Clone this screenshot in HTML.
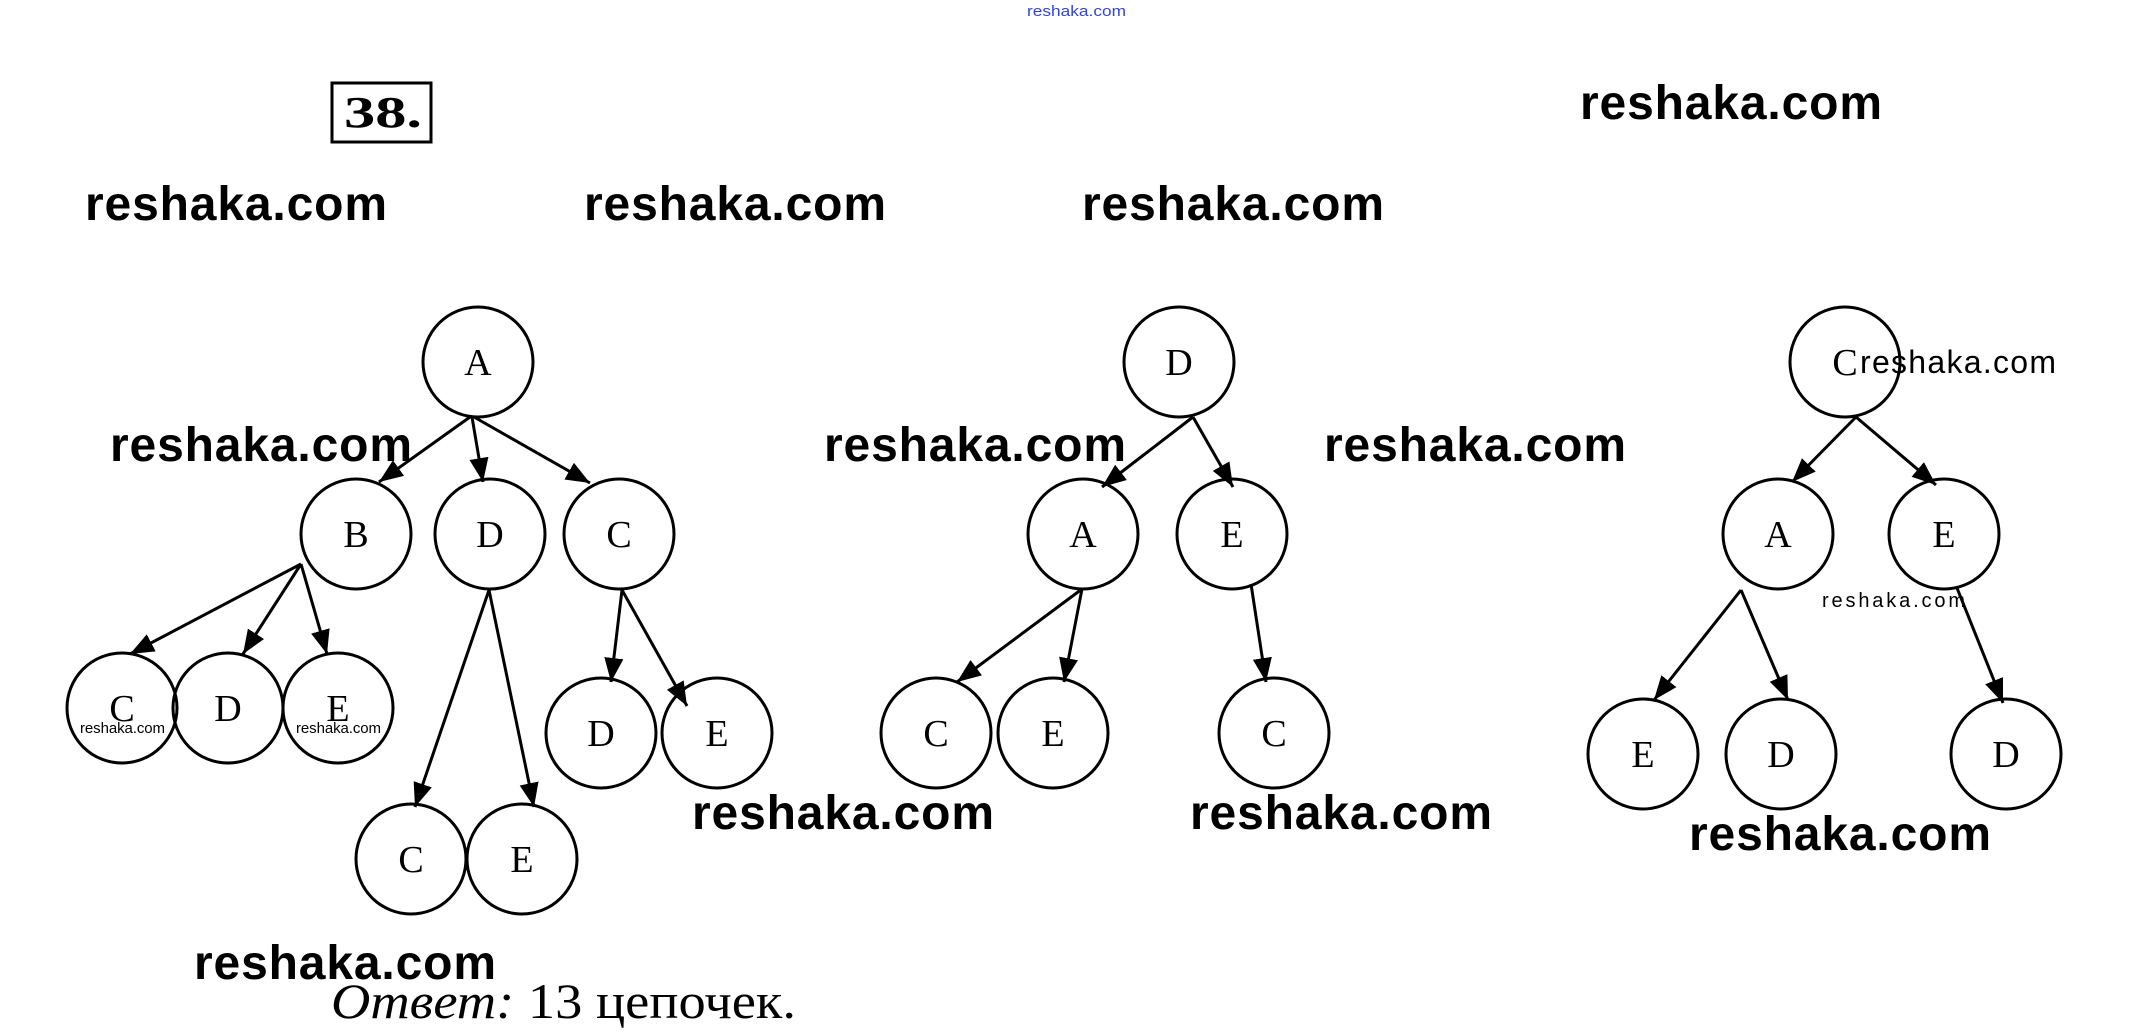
<!DOCTYPE html>
<html><head><meta charset="utf-8"><style>body{margin:0;background:#fff}svg{display:block}</style></head><body>
<svg width="2142" height="1034" viewBox="0 0 2142 1034" xmlns="http://www.w3.org/2000/svg">
<defs>
<marker id="a" viewBox="0 0 10 10" refX="10" refY="5" markerWidth="24" markerHeight="24" markerUnits="userSpaceOnUse" orient="auto"><path d="M0,1L10,5L0,9z" fill="#000"/></marker></defs>
<text x="1027" y="16" font-family="Liberation Sans, sans-serif" font-size="15" fill="#3344dd" textLength="99" lengthAdjust="spacingAndGlyphs">reshaka.com</text>
<rect x="332" y="83" width="99" height="59" fill="none" stroke="#000" stroke-width="3"/>
<text x="344" y="127" font-family="Liberation Serif, serif" font-weight="bold" font-size="44" textLength="78" lengthAdjust="spacingAndGlyphs">38.</text>
<g stroke="#000" stroke-width="3" fill="none">
<circle cx="478" cy="362" r="55"/><circle cx="356" cy="534" r="55"/><circle cx="490" cy="534" r="55"/><circle cx="619" cy="534" r="55"/>
<circle cx="122" cy="708" r="55"/><circle cx="228" cy="708" r="55"/><circle cx="338" cy="708" r="55"/>
<circle cx="601" cy="733" r="55"/><circle cx="717" cy="733" r="55"/><circle cx="411" cy="859" r="55"/><circle cx="522" cy="859" r="55"/>
<circle cx="1179" cy="362" r="55"/><circle cx="1083" cy="534" r="55"/><circle cx="1232" cy="534" r="55"/>
<circle cx="936" cy="733" r="55"/><circle cx="1053" cy="733" r="55"/><circle cx="1274" cy="733" r="55"/>
<circle cx="1845" cy="362" r="55"/><circle cx="1778" cy="534" r="55"/><circle cx="1944" cy="534" r="55"/>
<circle cx="1643" cy="754" r="55"/><circle cx="1781" cy="754" r="55"/><circle cx="2006" cy="754" r="55"/>
</g>
<g stroke="#000" stroke-width="3" marker-end="url(#a)">
<line x1="470" y1="417" x2="379" y2="482"/><line x1="472" y1="417" x2="483" y2="482"/><line x1="474" y1="417" x2="590" y2="483"/>
<line x1="301" y1="564" x2="130" y2="654"/><line x1="301" y1="564" x2="243" y2="654"/><line x1="301" y1="564" x2="327" y2="654"/>
<line x1="489" y1="590" x2="415" y2="807"/><line x1="489" y1="590" x2="534" y2="807"/>
<line x1="622" y1="590" x2="611" y2="682"/><line x1="622" y1="590" x2="687" y2="706"/>
<line x1="1193" y1="417" x2="1102" y2="487"/><line x1="1193" y1="417" x2="1233" y2="487"/>
<line x1="1082" y1="589" x2="957" y2="682"/><line x1="1082" y1="589" x2="1064" y2="682"/>
<line x1="1251" y1="584" x2="1266" y2="682"/>
<line x1="1856" y1="417" x2="1792" y2="482"/><line x1="1856" y1="417" x2="1936" y2="485"/>
<line x1="1741" y1="590" x2="1654" y2="700"/><line x1="1741" y1="590" x2="1788" y2="700"/>
<line x1="1957" y1="588" x2="2003" y2="703"/>
</g>
<g font-family="Liberation Serif, serif" font-size="38" text-anchor="middle">
<text x="478" y="375">A</text><text x="356" y="547">B</text><text x="490" y="547">D</text><text x="619" y="547">C</text>
<text x="122" y="721">C</text><text x="228" y="721">D</text><text x="338" y="721">E</text>
<text x="601" y="746">D</text><text x="717" y="746">E</text><text x="411" y="872">C</text><text x="522" y="872">E</text>
<text x="1179" y="375">D</text><text x="1083" y="547">A</text><text x="1232" y="547">E</text>
<text x="936" y="746">C</text><text x="1053" y="746">E</text><text x="1274" y="746">C</text>
<text x="1845" y="375">C</text><text x="1778" y="547">A</text><text x="1944" y="547">E</text>
<text x="1643" y="767">E</text><text x="1781" y="767">D</text><text x="2006" y="767">D</text>
</g>
<g font-family="Liberation Sans, sans-serif" font-weight="bold" font-size="48" lengthAdjust="spacingAndGlyphs">
<text x="85" y="220" textLength="302">reshaka.com</text><text x="584" y="220" textLength="302">reshaka.com</text>
<text x="1082" y="220" textLength="302">reshaka.com</text><text x="1580" y="119" textLength="302">reshaka.com</text>
<text x="110" y="461" textLength="302">reshaka.com</text><text x="824" y="461" textLength="302">reshaka.com</text>
<text x="1324" y="461" textLength="302">reshaka.com</text><text x="692" y="829" textLength="302">reshaka.com</text>
<text x="1190" y="829" textLength="302">reshaka.com</text><text x="1689" y="850" textLength="302">reshaka.com</text>
<text x="194" y="979" textLength="302">reshaka.com</text>
</g>
<g font-family="Liberation Sans, sans-serif" lengthAdjust="spacingAndGlyphs">
<text x="80" y="733" font-size="15" textLength="85">reshaka.com</text>
<text x="296" y="733" font-size="15" textLength="85">reshaka.com</text>
<text x="1822" y="607" font-size="20" textLength="143">reshaka.com</text>
<text x="1860" y="373" font-size="32" textLength="196">reshaka.com</text>
</g>
<text x="331" y="1018" font-family="Liberation Serif, serif" font-size="50" textLength="465" lengthAdjust="spacingAndGlyphs"><tspan font-style="italic">Ответ:</tspan> 13 цепочек.</text>
</svg>
</body></html>
